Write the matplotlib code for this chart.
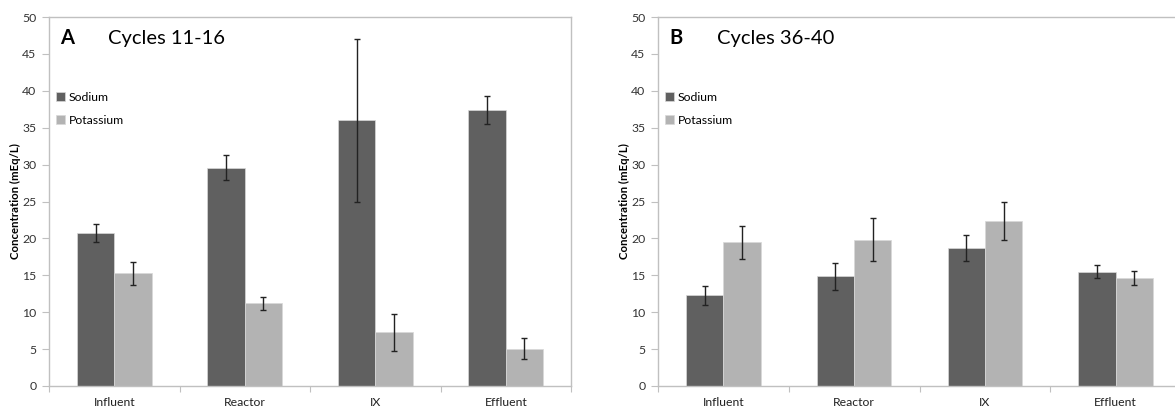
import matplotlib.pyplot as plt
import numpy as np

plt.rcParams['font.family'] = ['Lato', 'DejaVu Sans']

categories = ['Influent', 'Reactor', 'IX', 'Effluent']
series = ['Sodium', 'Potassium']

# panel A, cycles 11-16
a_sodium = [20.7, 29.6, 36.0, 37.4]
a_sodium_err = [1.2, 1.75, 11.0, 1.95]
a_potassium = [15.25, 11.2, 7.25, 5.05]
a_potassium_err = [1.5, 0.85, 2.5, 1.4]

# panel B, cycles 36-40
b_sodium = [12.3, 14.85, 18.75, 15.5]
b_sodium_err = [1.3, 1.8, 1.75, 0.9]
b_potassium = [19.45, 19.85, 22.35, 14.65]
b_potassium_err = [2.25, 2.95, 2.55, 1.0]

colors = ['#606060', '#b3b3b3']
spine_col = '#c0c0c0'

fig = plt.figure(figsize=(11.75, 4.09), dpi=100)
axA = fig.add_axes([49/1175, 23/409, 522/1175, 369/409])
axB = fig.add_axes([658/1175, 23/409, 523/1175, 369/409])


def draw(ax, sodium, s_err, potassium, p_err, letter, title):
    x = np.arange(len(categories))
    w = 0.2857
    ax.bar(x - w/2, sodium, w, color=colors[0], edgecolor='#d8d8d8', linewidth=0.5,
           yerr=s_err, error_kw=dict(ecolor='#222222', elinewidth=1, capsize=2.5, capthick=1),
           label=series[0], zorder=2)
    ax.bar(x + w/2, potassium, w, color=colors[1], edgecolor='#d8d8d8', linewidth=0.5,
           yerr=p_err, error_kw=dict(ecolor='#222222', elinewidth=1, capsize=2.5, capthick=1),
           label=series[1], zorder=2)
    ax.set_xlim(-0.5, 3.5)
    ax.set_ylim(0, 50)
    ax.set_yticks(np.arange(0, 51, 5))
    ax.set_xticks(np.arange(-0.5, 4.0, 1.0))
    ax.set_xticklabels([])
    ax.set_xticks(x, minor=True)
    ax.set_xticklabels(categories, minor=True)
    ax.tick_params(axis='x', which='major', length=4, color=spine_col, direction='out')
    ax.tick_params(axis='x', which='minor', length=0, pad=8, labelsize=8.8, labelcolor='#222222')
    ax.tick_params(axis='y', length=5, color=spine_col, labelsize=8.8, labelcolor='#333333', pad=4)
    for s in ax.spines.values():
        s.set_color(spine_col)
        s.set_linewidth(1)
    ax.set_ylabel('Concentration (mEq/L)', fontsize=8.2, fontweight='bold')
    ax.text(0.021, 0.943, letter, transform=ax.transAxes, fontsize=14.5, fontweight='bold',
            va='center', ha='left')
    ax.text(0.113, 0.943, title, transform=ax.transAxes, fontsize=14.5, va='center', ha='left')
    ax.legend(loc='upper left', bbox_to_anchor=(0.014, 0.797), frameon=False, fontsize=8.8,
              borderpad=0, handlelength=0.7, handleheight=0.7, handletextpad=0.3,
              labelspacing=0.95, borderaxespad=0)


draw(axA, a_sodium, a_sodium_err, a_potassium, a_potassium_err, 'A', 'Cycles 11-16')
draw(axB, b_sodium, b_sodium_err, b_potassium, b_potassium_err, 'B', 'Cycles 36-40')
axA.yaxis.set_label_coords(-0.053, 0.5)
axB.yaxis.set_label_coords(-0.053, 0.5)

fig.savefig('out.png', dpi=100)
